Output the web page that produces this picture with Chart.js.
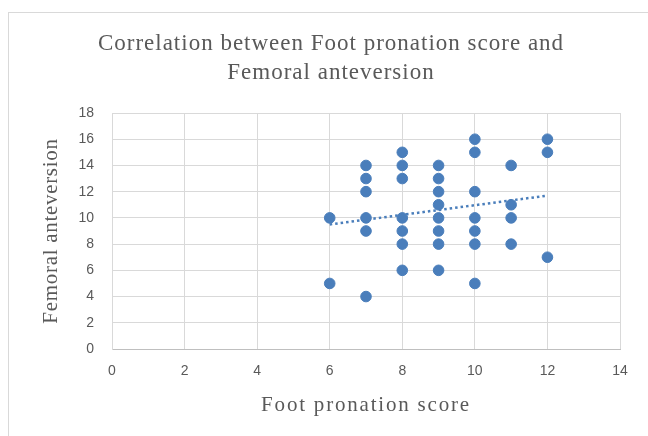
<!DOCTYPE html>
<html>
<head>
<meta charset="utf-8">
<title>Foot pronation vs femoral anteversion</title>
<script src="https://cdn.jsdelivr.net/npm/chart.js@4/dist/chart.umd.min.js"></script>
<style>
  html, body { margin: 0; padding: 0; background: #fff; overflow: hidden; }
  #wrap { width: 648px; height: 436px; }
</style>
</head>
<body>
<div id="wrap"><canvas id="myChart" width="648" height="436"></canvas></div>
<script>
// foot pronation score (x) and femoral anteversion (y), one entry per subject
const footScore = [
  6, 6,
  7, 7, 7, 7, 7, 7,
  8, 8, 8, 8, 8, 8, 8,
  9, 9, 9, 9, 9, 9, 9, 9,
  10, 10, 10, 10, 10, 10, 10,
  11, 11, 11, 11,
  12, 12, 12
];
const anteversion = [
  10, 5,
  14, 13, 12, 10, 9, 4,
  15, 14, 13, 10, 9, 8, 6,
  14, 13, 12, 11, 10, 9, 8, 6,
  16, 15, 12, 10, 9, 8, 5,
  14, 11, 10, 8,
  16, 15, 7
];
// linear trendline as drawn in the picture
const trendX = [6, 12];
const trendY = [9.5, 11.7];

const titleLines = ["Correlation between Foot pronation score and", "Femoral anteversion"];
const xTicks = [0, 2, 4, 6, 8, 10, 12, 14];
const yTicks = [0, 2, 4, 6, 8, 10, 12, 14, 16, 18];

const gray = "#595959";
const blue = "#4A7EBB";
const serif = "'Liberation Serif', serif";
// letter spacing of the axis titles (the original font runs wider)
const titleSpacing = { x: "1.8px", y: "0.7px" };

// outer frame, two line title, and spaced axis titles
const frameAndTitle = {
  id: "frameAndTitle",
  afterLayout(chart) {
    Object.values(chart.scales).forEach((s) => {
      if (s._spaced) return;
      const orig = s.drawTitle;
      s.drawTitle = function () {
        this.ctx.save();
        this.ctx.letterSpacing = titleSpacing[this.id] || "0px";
        orig.apply(this, arguments);
        this.ctx.restore();
      };
      s._spaced = true;
    });
  },
  beforeDraw(chart) {
    const ctx = chart.ctx;
    ctx.save();
    ctx.fillStyle = "#fff";
    ctx.fillRect(0, 0, chart.width, chart.height);
    ctx.strokeStyle = "#d9d9d9";
    ctx.lineWidth = 1;
    ctx.strokeRect(8.5, 12.5, 700, 500);
    ctx.restore();
  },
  afterDraw(chart) {
    const ctx = chart.ctx;
    ctx.save();
    ctx.fillStyle = gray;
    ctx.font = "23px " + serif;
    ctx.letterSpacing = "1px";
    ctx.textAlign = "center";
    ctx.textBaseline = "middle";
    titleLines.forEach((t, i) => ctx.fillText(t, 331, 44 + i * 29));
    ctx.restore();
  }
};

const points = footScore.map((x, i) => ({ x: x, y: anteversion[i] }));
const trend = trendX.map((x, i) => ({ x: x, y: trendY[i] }));

new Chart(document.getElementById("myChart").getContext("2d"), {
  type: "scatter",
  data: {
    datasets: [
      {
        label: "Femoral anteversion",
        data: points,
        backgroundColor: blue,
        borderColor: blue,
        pointRadius: 5.3,
        pointHoverRadius: 5.3,
        order: 1
      },
      {
        label: "Linear trend",
        type: "line",
        data: trend,
        borderColor: blue,
        borderWidth: 2.5,
        borderDash: [2.5, 3],
        pointRadius: 0,
        fill: false,
        order: 2
      }
    ]
  },
  options: {
    responsive: false,
    animation: false,
    layout: { padding: { left: 0, top: 113, right: 28, bottom: 0 } },
    plugins: {
      legend: { display: false },
      title: { display: false },
      tooltip: { enabled: false }
    },
    scales: {
      x: {
        type: "linear",
        min: 0,
        max: 14,
        afterBuildTicks: (s) => { s.ticks = xTicks.map(v => ({ value: v })); },
        afterFit: (s) => { s.height = 87; },
        grid: { color: "#d9d9d9", drawTicks: false },
        border: { color: "#bfbfbf" },
        ticks: { color: gray, padding: 14, font: { family: "'Liberation Sans', sans-serif", size: 14 } },
        title: {
          display: true,
          text: "Foot pronation score",
          color: gray,
          padding: { top: 0, bottom: 18 },
          font: { family: serif, size: 21 }
        }
      },
      y: {
        type: "linear",
        min: 0,
        max: 18,
        afterBuildTicks: (s) => { s.ticks = yTicks.map(v => ({ value: v })); },
        afterFit: (s) => { s.width = 112; },
        grid: { color: "#d9d9d9", drawTicks: false },
        border: { color: "#d9d9d9" },
        ticks: { color: gray, padding: 18, font: { family: "'Liberation Sans', sans-serif", size: 14 } },
        title: {
          display: true,
          text: "Femoral anteversion",
          color: gray,
          padding: { top: 39, bottom: 0 },
          font: { family: serif, size: 21 }
        }
      }
    }
  },
  plugins: [frameAndTitle]
});
</script>
</body>
</html>
